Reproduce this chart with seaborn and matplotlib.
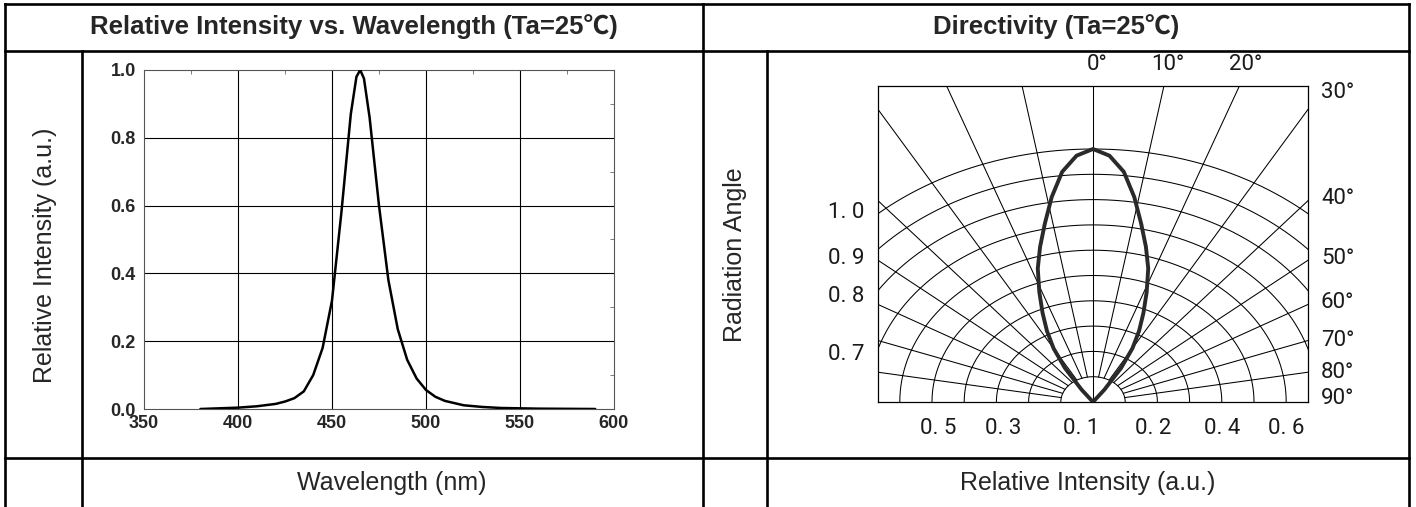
import numpy as np
import pandas as pd
import matplotlib
matplotlib.use("Agg")
import matplotlib.pyplot as plt
from matplotlib.lines import Line2D
from matplotlib.ticker import MultipleLocator
import seaborn as sns

# ---------------- data ----------------
wavelength_nm = [380, 400, 410, 420, 425, 430, 435, 440, 445, 450, 455, 460, 463, 465, 467,
                 470, 475, 480, 485, 490, 495, 500, 505, 510, 520, 530, 540, 560, 590]
rel_intensity = [0.0, 0.004, 0.008, 0.015, 0.022, 0.032, 0.052, 0.10, 0.18, 0.32, 0.58, 0.87, 0.98, 1.0, 0.975,
                 0.86, 0.60, 0.38, 0.235, 0.145, 0.09, 0.056, 0.036, 0.024, 0.011, 0.006, 0.003, 0.001, 0.0]
spec_xticks = [350, 400, 450, 500, 550, 600]
spec_yticks = [0.0, 0.2, 0.4, 0.6, 0.8, 1.0]

dir_angle_deg = [0, 3, 6, 9, 12, 15, 18, 21, 24, 27, 30, 33, 36, 38]
dir_intensity = [1.0, 0.975, 0.915, 0.82, 0.72, 0.635, 0.555, 0.465, 0.385, 0.315, 0.245, 0.16, 0.06, 0.0]
grid_angles_deg = list(range(-80, 81, 10))
ring_levels = list(range(1, 11))
bottom_labels = ["0. 5", "0. 3", "0. 1", "0. 2", "0. 4", "0. 6"]
left_labels = ["1. 0", "0. 9", "0. 8", "0. 7"]
top_angle_labels = ["0°", "10°", "20°"]
right_angle_labels = ["30°", "40°", "50°", "60°", "70°", "80°", "90°"]

title_left = "Relative Intensity vs. Wavelength (Ta=25℃)"
title_right = "Directivity (Ta=25℃)"
ylabel_left = "Relative Intensity (a.u.)"
xlabel_left = "Wavelength (nm)"
ylabel_right = "Radiation Angle"
xlabel_right = "Relative Intensity (a.u.)"

# ---------------- style ----------------
sns.set_theme(style="white")
plt.rcParams["font.family"] = ["Liberation Sans", "Noto Sans CJK SC", "DejaVu Sans"]

W, H = 1416, 507
fig = plt.figure(figsize=(W / 100, H / 100), dpi=100)
fig.patch.set_facecolor("white")


def fx(px):
    return px / W


def fy(py):
    return 1 - py / H


def hline(y, x0, x1, lw=1.9):
    fig.add_artist(Line2D([fx(x0), fx(x1)], [fy(y), fy(y)], transform=fig.transFigure,
                          color="black", lw=lw, solid_capstyle="projecting"))


def vline(x, y0, y1, lw=1.9):
    fig.add_artist(Line2D([fx(x), fx(x)], [fy(y0), fy(y1)], transform=fig.transFigure,
                          color="black", lw=lw, solid_capstyle="projecting"))


# table frame
hline(3.5, 5, 1409)
hline(51, 5, 1409)
hline(458, 5, 1409)
vline(5, 3.5, 507)
vline(1409, 3.5, 507)
vline(703, 3.5, 507)
vline(82, 51, 507)
vline(767, 51, 507)

# header titles
fig.text(fx(354), fy(27), title_left, ha="center", va="center", fontsize=18.5, fontweight="bold")
fig.text(fx(1056), fy(27), title_right, ha="center", va="center", fontsize=18.5, fontweight="bold")
# side / bottom labels
fig.text(fx(45), fy(255), ylabel_left, ha="center", va="center", rotation=90, fontsize=18)
fig.text(fx(392), fy(483), xlabel_left, ha="center", va="center", fontsize=18)
fig.text(fx(735), fy(255), ylabel_right, ha="center", va="center", rotation=90, fontsize=18)
fig.text(fx(1088), fy(483), xlabel_right, ha="center", va="center", fontsize=18)

# ---------------- spectrum ----------------
ax1 = fig.add_axes([fx(144), fy(409), (614 - 144) / W, (409 - 70) / H])
spec_df = pd.DataFrame({"wl": wavelength_nm, "I": rel_intensity})
sns.lineplot(data=spec_df, x="wl", y="I", ax=ax1, color="black", lw=1.8, zorder=3, estimator=None)
ax1.set_xlim(spec_xticks[0], spec_xticks[-1])
ax1.set_ylim(spec_yticks[0], spec_yticks[-1])
ax1.set_xticks(spec_xticks)
ax1.set_yticks(spec_yticks)
ax1.set_xticklabels([str(t) for t in spec_xticks])
ax1.set_yticklabels([f"{t:.1f}" for t in spec_yticks])
for t in spec_xticks[1:-1]:
    ax1.axvline(t, color="black", lw=0.8, zorder=1)
for t in spec_yticks[1:-1]:
    ax1.axhline(t, color="black", lw=0.8, zorder=1)
ax1.xaxis.set_minor_locator(MultipleLocator(25))
ax1.yaxis.set_minor_locator(MultipleLocator(0.1))
ax1.tick_params(axis="both", which="major", length=0, labelsize=13)
ax1.tick_params(axis="both", which="minor", length=3, direction="in", width=0.6, color="#666666",
                top=True, right=True)
ax1.tick_params(axis="x", pad=4)
ax1.tick_params(axis="y", pad=6)
for lab in ax1.get_xticklabels() + ax1.get_yticklabels():
    lab.set_fontweight("bold")
for s in ax1.spines.values():
    s.set_color("#555555")
    s.set_linewidth(0.8)
ax1.set_xlabel("")
ax1.set_ylabel("")

# ---------------- directivity ----------------
sx, sy = 32.2, 25.3  # pixels per ring unit
ax2 = fig.add_axes([fx(878), fy(402), (1308 - 878) / W, (402 - 86) / H])
ax2.set_xlim(-215 / sx, 215 / sx)
ax2.set_ylim(0, 316 / sy)

th = np.radians(np.linspace(-90, 90, 361))
for r in ring_levels:
    ax2.plot(r * np.sin(th), r * np.cos(th), color="black", lw=0.75)
for a in grid_angles_deg:
    ar = np.radians(a)
    r0 = 0 if a == 0 else 1
    ax2.plot([r0 * np.sin(ar), 30 * np.sin(ar)], [r0 * np.cos(ar), 30 * np.cos(ar)], color="black", lw=0.75)

ang = np.radians(np.array([-a for a in dir_angle_deg[::-1]] + dir_angle_deg[1:]))
inten = np.array(dir_intensity[::-1] + dir_intensity[1:]) * ring_levels[-1]
lobe_df = pd.DataFrame({"x": inten * np.sin(ang), "y": inten * np.cos(ang)})
sns.lineplot(data=lobe_df, x="x", y="y", sort=False, estimator=None, ax=ax2,
             color="#2a2a2a", lw=2.8, zorder=4)
ax2.set_xticks([])
ax2.set_yticks([])
ax2.set_xlabel("")
ax2.set_ylabel("")
for s in ax2.spines.values():
    s.set_color("black")
    s.set_linewidth(0.9)

polar_font = dict(family=["Roboto", "DejaVu Sans"], fontweight="normal", fontsize=16, color="#1a1a1a")
for lab, px in zip(bottom_labels, [938, 1003, 1081, 1153, 1222, 1286]):
    fig.text(fx(px), fy(428), lab, ha="center", va="center", **polar_font)
for lab, py in zip(left_labels, [213, 258, 296, 355]):
    fig.text(fx(864), fy(py), lab, ha="right", va="center", **polar_font)
for lab, px in zip(top_angle_labels, [1097, 1168, 1246]):
    fig.text(fx(px), fy(65), lab, ha="center", va="center", **polar_font)
for lab, py in zip(right_angle_labels, [92, 199, 259, 302, 340, 372, 398]):
    fig.text(fx(1321), fy(py), lab, ha="left", va="center", **polar_font)

fig.savefig("out.png", dpi=100, facecolor="white")
